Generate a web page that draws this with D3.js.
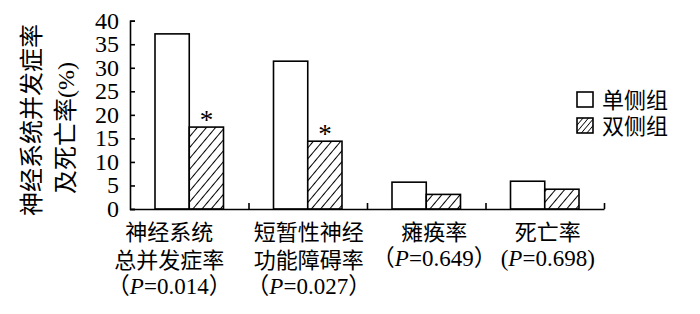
<!DOCTYPE html>
<html lang="en"><head><meta charset="utf-8">
<script src="https://cdn.jsdelivr.net/npm/d3@7"></script>
</head><body style="margin:0">
<svg id="c" width="700" height="314"></svg>
<script>
// ---- data ----
const categories = ["神经系统总并发症率", "短暂性神经功能障碍率", "瘫痪率", "死亡率"];
const labelLines = [["神经系统", "总并发症率"], ["短暂性神经", "功能障碍率"], ["瘫痪率"], ["死亡率"]];
const pValues = ["0.014", "0.027", "0.649", "0.698"];
const pOpen = ["（", "（", "（", "("];
const pClose = ["）", "）", "）", ")"];
const seriesNames = ["单侧组", "双侧组"];
const unilateral = [37.2, 31.4, 5.7, 5.9];
const bilateral = [17.4, 14.4, 3.1, 4.2];
const significant = [true, true, false, false]; // * marks on 双侧组
const yTicks = [0, 5, 10, 15, 20, 25, 30, 35, 40];
const yTitle = ["神经系统并发症率", "及死亡率(%)"];

// ---- layout ----
const SERIF = '"Liberation Serif", "Times New Roman", Times, serif';
const CJK = '"Noto Sans CJK SC", sans-serif';
const margin = {left: 130, right: 96, top: 20.7, bottom: 105};
const W = 700, H = 314;
const labelShift = [-20, 1, 8, 3];
const isAscii = s => /^[\x00-\x7f]*$/.test(s);
const ff = (sel, f) => sel.style("font-family", f);

const svg = d3.select("#c");
const defs = svg.append("defs");
function hatch(id, size, sw) {
  const p = defs.append("pattern").attr("id", id).attr("patternUnits", "userSpaceOnUse")
    .attr("width", size).attr("height", size).attr("patternTransform", "rotate(40)");
  p.append("rect").attr("width", size).attr("height", size).attr("fill", "#fff");
  p.append("line").attr("x1", 0).attr("y1", 0).attr("x2", 0).attr("y2", size)
    .attr("stroke", "#000").attr("stroke-width", sw);
}
hatch("hatch", 7, 2);
hatch("hatchSmall", 4.2, 1.6);

const x0 = d3.scaleBand().domain(categories).range([margin.left, W - margin.right]).paddingInner(0).paddingOuter(0);
const x1 = d3.scaleBand().domain(seriesNames).range([25, x0.bandwidth() - 25]).padding(0);
const y = d3.scaleLinear().domain([0, 40]).range([H - margin.bottom, margin.top]);

const data = categories.map((c, i) => ({cat: c, vals: [
  {s: seriesNames[0], v: unilateral[i]},
  {s: seriesNames[1], v: bilateral[i], sig: significant[i]}
]}));

// y tick labels
ff(svg.selectAll("text.ytick").data(yTicks).join("text").attr("class", "ytick")
  .attr("x", 119).attr("y", d => y(d)).attr("dy", "0.33em")
  .attr("text-anchor", "end").attr("font-size", 24).text(d => d), SERIF);

// bars
const g = svg.append("g").selectAll("g").data(data).join("g")
  .attr("transform", d => `translate(${x0(d.cat)},0)`);
g.selectAll("rect").data(d => d.vals).join("rect")
  .attr("x", d => x1(d.s)).attr("width", x1.bandwidth())
  .attr("y", d => y(d.v)).attr("height", d => y(0) - y(d.v))
  .attr("fill", (d, i) => i === 0 ? "#fff" : "url(#hatch)")
  .attr("stroke", "#000").attr("stroke-width", 1.6);
ff(g.selectAll("text.sig").data(d => d.vals.filter(v => v.sig)).join("text")
  .attr("class", "sig")
  .attr("x", d => x1(d.s) + x1.bandwidth() / 2).attr("y", d => y(d.v) + 2)
  .attr("text-anchor", "middle").attr("font-size", 27).text("*"), SERIF);

// y axis (ticks inward)
const yAxis = svg.append("g").attr("transform", `translate(${margin.left},0)`)
  .call(d3.axisRight(y).tickValues(yTicks).tickSize(5).tickSizeOuter(5).tickFormat(""));
yAxis.select(".domain").attr("stroke-width", 1.6);
yAxis.selectAll(".tick line").attr("stroke-width", 1.6);

// x axis with boundary ticks pointing up
const xb = d3.scaleLinear().domain([0, categories.length]).range([margin.left, W - margin.right]);
const xAxis = svg.append("g").attr("transform", `translate(0,${y(0)})`)
  .call(d3.axisTop(xb).tickValues(d3.range(1, categories.length + 1)).tickSize(6).tickSizeOuter(0).tickFormat(""));
xAxis.select(".domain").attr("stroke-width", 1.6);
xAxis.selectAll(".tick line").attr("stroke-width", 1.6);

// category labels
categories.forEach((c, i) => {
  const cx = x0(c) + x0.bandwidth() / 2 + labelShift[i];
  const lines = labelLines[i];
  lines.forEach((ln, k) => {
    ff(svg.append("text").attr("x", cx).attr("y", 240 + k * 28).attr("text-anchor", "middle")
      .attr("font-size", 22).text(ln), CJK);
  });
  const t = ff(svg.append("text").attr("x", cx).attr("y", 240 + lines.length * 28 - 2)
    .attr("text-anchor", "middle").attr("font-size", 23), SERIF);
  ff(t.append("tspan").text(pOpen[i]), isAscii(pOpen[i]) ? SERIF : CJK);
  ff(t.append("tspan").attr("font-style", "italic").text("P"), SERIF);
  ff(t.append("tspan").text("=" + pValues[i]), SERIF);
  ff(t.append("tspan").text(pClose[i]), isAscii(pClose[i]) ? SERIF : CJK);
});

// y title (rotated)
const tx = [32, 66], tyc = [120, 128];
yTitle.forEach((s, k) => {
  const t = ff(svg.append("text")
    .attr("transform", `translate(${tx[k]},${tyc[k]}) rotate(-90)`)
    .attr("text-anchor", "middle").attr("dy", "0.35em").attr("font-size", 24), CJK);
  const m = s.match(/^([^\x00-\x7f]*)(.*)$/);
  ff(t.append("tspan").text(m[1]), CJK);
  if (m[2]) ff(t.append("tspan").text(m[2]), SERIF);
});

// legend
seriesNames.forEach((s, i) => {
  const lg = svg.append("g").attr("transform", `translate(577,${92 + i * 26})`);
  lg.append("rect").attr("width", 16).attr("height", 15)
    .attr("fill", i === 0 ? "#fff" : "url(#hatchSmall)")
    .attr("stroke", "#000").attr("stroke-width", 1.6);
  ff(lg.append("text").attr("x", 25).attr("y", 8).attr("dy", "0.35em")
    .attr("font-size", 22).text(s), CJK);
});
</script></body></html>
